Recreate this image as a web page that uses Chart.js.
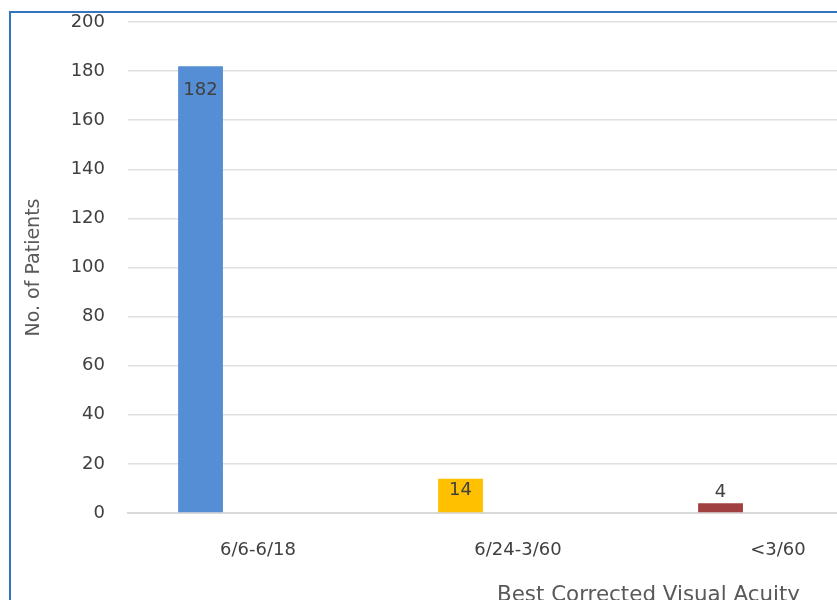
<!DOCTYPE html>
<html>
<head>
<meta charset="utf-8">
<title>Best Corrected Visual Acuity</title>
<script src="https://cdn.jsdelivr.net/npm/chart.js@4.4.1/dist/chart.umd.min.js"></script>
<style>
  html, body { margin: 0; padding: 0; background: #fff; width: 837px; height: 600px; overflow: hidden; }
  #frame { position: absolute; left: 9px; top: 11px; width: 1000px; height: 700px;
           border-left: 2px solid #3575bd; border-top: 2px solid #3575bd; }
  #chart { position: absolute; left: 0; top: 0; }
  #xtitle { position: absolute; left: 497px; top: 581px; white-space: nowrap; line-height: 24px;
            font: 21.4px 'DejaVu Sans', sans-serif; color: #595959; }
</style>
</head>
<body>
<div id="frame"></div>
<canvas id="chart" width="930" height="600"></canvas>
<div id="xtitle">Best Corrected Visual Acuity</div>
<script>
'use strict';

// ── Data ───────────────────────────────────────────────────────────
const categories = ['6/6-6/18', '6/24-3/60', '<3/60'];
const patients   = [182, 14, 4];
const barColors  = ['#558ed5', '#ffc000', '#a04040'];
// the workbook had two more (empty) series next to the counts
const emptyA     = [null, null, null];
const emptyB     = [null, null, null];
const yTicks     = [0, 20, 40, 60, 80, 100, 120, 140, 160, 180, 200];

const FONT = "'DejaVu Sans', sans-serif";

// value labels: inside the top of tall bars, above short ones
const barLabels = {
  id: 'barLabels',
  afterDatasetsDraw(chart) {
    const { ctx } = chart;
    const meta = chart.getDatasetMeta(0);
    ctx.save();
    ctx.font = `18px ${FONT}`;
    ctx.fillStyle = '#404040';
    ctx.textAlign = 'center';
    ctx.textBaseline = 'middle';
    meta.data.forEach((bar, i) => {
      const v = patients[i];
      const h = bar.base - bar.y;
      const y = h < 20 ? bar.y - 11 : bar.y + Math.min(24, h / 2 - 5);
      ctx.fillText(String(v), bar.x, y);
    });
    ctx.restore();
  }
};

// fixed axis boxes so the plot area lands where we want it
const noPad = s => { s.paddingTop = 0; s.paddingBottom = 0; s.paddingLeft = 0; s.paddingRight = 0; };

new Chart(document.getElementById('chart').getContext('2d'), {
  type: 'bar',
  data: {
    labels: categories,
    datasets: [
      { label: 'No. of Patients', data: patients, backgroundColor: barColors, borderWidth: 0 },
      { label: 'A', data: emptyA },
      { label: 'B', data: emptyB }
    ]
  },
  options: {
    responsive: false,
    animation: false,
    devicePixelRatio: 1,
    categoryPercentage: 0.663,
    barPercentage: 0.78,
    layout: { padding: { top: 22, left: 11, right: 22, bottom: 0 } },
    scales: {
      x: {
        grid: { display: false },
        border: { color: '#d9d9d9', width: 2 },
        ticks: { font: { size: 18, family: FONT }, color: '#404040', padding: 19, maxRotation: 0 },
        afterFit: s => { s.height = 87; noPad(s); }
      },
      y: {
        min: 0, max: 200,
        afterBuildTicks: s => { s.ticks = yTicks.map(v => ({ value: v })); },
        grid: { color: '#e0e0e0', lineWidth: 1.5, drawTicks: false },
        border: { display: false },
        ticks: { font: { size: 18, family: FONT }, color: '#404040', padding: 23 },
        title: { display: true, text: 'No. of Patients', font: { size: 19, family: FONT },
                 color: '#595959', padding: { top: 12, bottom: 0 } },
        afterFit: s => { s.width = 117; noPad(s); }
      }
    },
    plugins: {
      legend: { display: false },
      tooltip: { enabled: false }
    }
  },
  plugins: [barLabels]
});
</script>
</body>
</html>
